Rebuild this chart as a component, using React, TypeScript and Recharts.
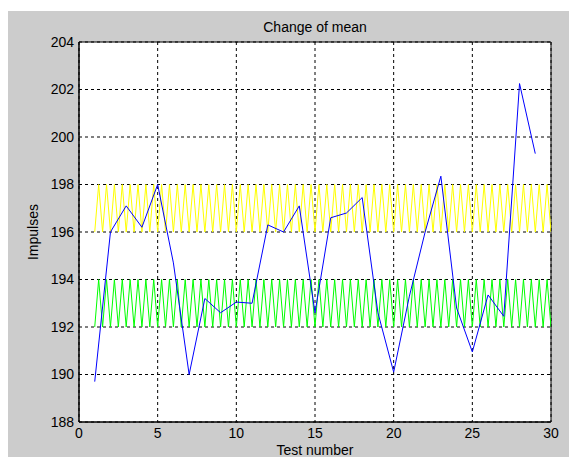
import React from 'react'
import { CartesianGrid, Line, LineChart, XAxis, YAxis, ReferenceArea } from 'recharts'

// blue series: mean per test
const testNumbers = [1, 2, 3, 4, 5, 6, 7, 8, 9, 10, 11, 12, 13, 14, 15, 16, 17, 18, 19, 20, 21, 22, 23, 24, 25, 26, 27, 28, 29]
const meanValues = [
  189.7, 196.0, 197.1, 196.2, 198.0, 194.7, 190.0, 193.2, 192.6, 193.05,
  193.0, 196.3, 196.0, 197.1, 192.6, 196.6, 196.8, 197.45, 192.6, 190.1,
  193.3, 196.0, 198.35, 192.8, 190.95, 193.35, 192.45, 202.25, 199.3,
]

// limit bands, sampled every 0.25 from test 1 to 30
const bandStart = 1
const bandStep = 0.25
const upperBand = [
  196, 198, 196, 198, 196, 198, 196, 198, 196, 198, 196, 198, 196, 198, 196, 198, 196, 198, 196, 198,
  196, 198, 196, 198, 196, 198, 196, 198, 196, 198, 196, 198, 196, 198, 196, 198, 196, 198, 196, 198,
  196, 198, 196, 198, 196, 198, 196, 198, 196, 198, 196, 198, 196, 198, 196, 198, 196, 198, 196, 198,
  196, 198, 196, 198, 196, 198, 196, 198, 196, 198, 196, 198, 196, 198, 196, 198, 196, 198, 196, 198,
  196, 198, 196, 198, 196, 198, 196, 198, 196, 198, 196, 198, 196, 198, 196, 198, 196, 198, 196, 198,
  196, 198, 196, 198, 196, 198, 196, 198, 196, 198, 196, 198, 196, 198, 196, 198, 196,
]
const lowerBand = [
  192, 194, 192, 194, 192, 194, 192, 194, 192, 194, 192, 194, 192, 194, 192, 194, 192, 194, 192, 194,
  192, 194, 192, 194, 192, 194, 192, 194, 192, 194, 192, 194, 192, 194, 192, 194, 192, 194, 192, 194,
  192, 194, 192, 194, 192, 194, 192, 194, 192, 194, 192, 194, 192, 194, 192, 194, 192, 194, 192, 194,
  192, 194, 192, 194, 192, 194, 192, 194, 192, 194, 192, 194, 192, 194, 192, 194, 192, 194, 192, 194,
  192, 194, 192, 194, 192, 194, 192, 194, 192, 194, 192, 194, 192, 194, 192, 194, 192, 194, 192, 194,
  192, 194, 192, 194, 192, 194, 192, 194, 192, 194, 192, 194, 192, 194, 192, 194, 192,
]

const xTicks = [0, 5, 10, 15, 20, 25, 30]
const yTicks = [188, 190, 192, 194, 196, 198, 200, 202, 204]

const meanData = testNumbers.map((x, i) => ({ x, value: meanValues[i] }))
const upperData = upperBand.map((value, i) => ({ x: bandStart + i * bandStep, value }))
const lowerData = lowerBand.map((value, i) => ({ x: bandStart + i * bandStep, value }))

const font = '"Liberation Sans", Arial, sans-serif'
const tickStyle = { fontSize: 14, fill: '#000', fontFamily: font }

const App = () => {
  return (
    <div style={{ position: 'absolute', left: 8, top: 11, width: 561, height: 446, background: '#cccccc', overflow: 'hidden' }}>
      <div
        style={{
          position: 'absolute', left: 71, top: 8, width: 472, textAlign: 'center',
          fontFamily: font, fontSize: 14, lineHeight: '16px', color: '#000',
        }}
      >
        Change of mean
      </div>
      <LineChart width={561} height={446} margin={{ top: 31, right: 18, bottom: 0, left: 0 }}>
        <CartesianGrid
          fill="#fff"
          stroke="#000"
          strokeDasharray="3 3"
          horizontalValues={yTicks}
          verticalValues={xTicks}
        />
        <XAxis
          type="number"
          dataKey="x"
          domain={[0, 30]}
          ticks={xTicks}
          height={35}
          tickLine={false}
          tickSize={4}
          axisLine={{ stroke: '#000' }}
          tick={tickStyle}
          allowDataOverflow
          label={{ value: 'Test number', position: 'insideBottom', offset: 2, style: { fontSize: 14, fill: '#000', fontFamily: font } }}
        />
        <YAxis
          type="number"
          domain={[188, 204]}
          ticks={yTicks}
          width={71}
          tickLine={false}
          tickSize={3}
          axisLine={{ stroke: '#000' }}
          tick={tickStyle}
          allowDataOverflow
          label={{ value: 'Impulses', angle: -90, position: 'insideLeft', offset: 25, style: { fontSize: 14, fill: '#000', fontFamily: font, textAnchor: 'middle' } }}
        />
        <Line data={upperData} dataKey="value" stroke="#ffff00" strokeWidth={1} dot={false} isAnimationActive={false} />
        <Line data={lowerData} dataKey="value" stroke="#00ff00" strokeWidth={1} dot={false} isAnimationActive={false} />
        <Line data={meanData} dataKey="value" stroke="#0000ff" strokeWidth={1} dot={false} isAnimationActive={false} />
        <ReferenceArea x1={0} x2={30} y1={188} y2={204} fill="none" stroke="#000" strokeWidth={1} />
      </LineChart>
    </div>
  )
}

export default App
